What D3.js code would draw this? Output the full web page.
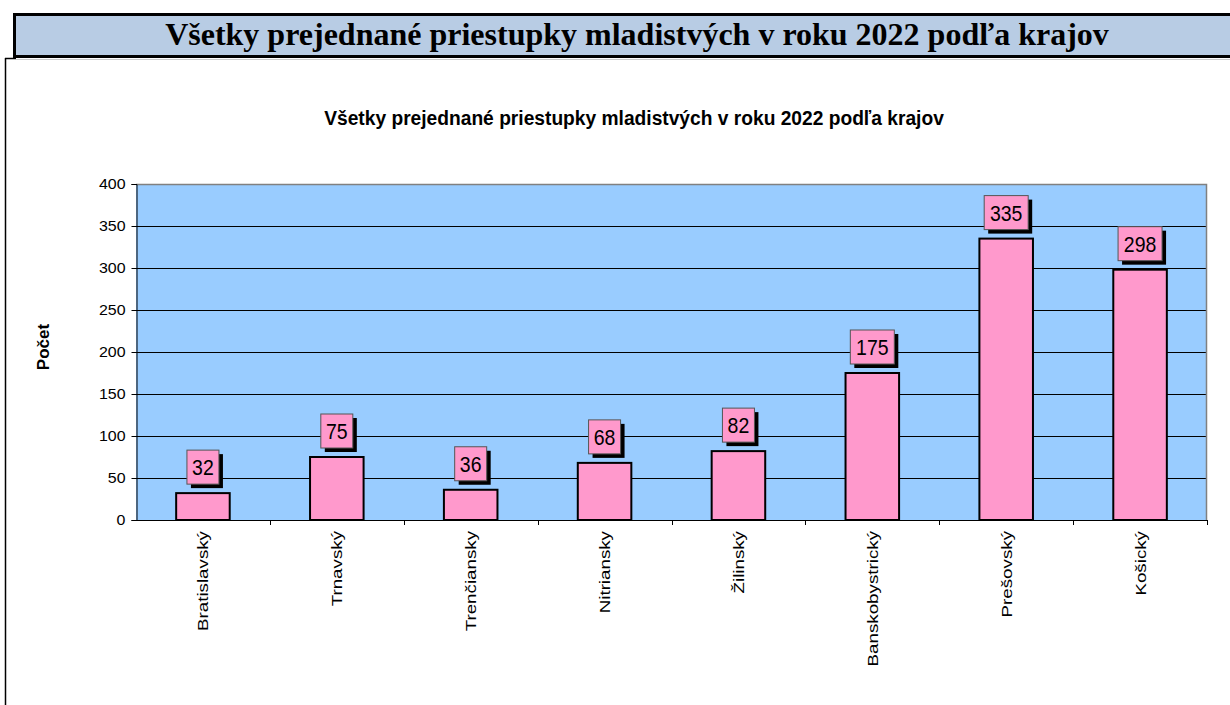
<!DOCTYPE html>
<html><head><meta charset="utf-8">
<script src="https://cdn.jsdelivr.net/npm/d3@7"></script>
<style>body{margin:0;background:#fff;} svg{display:block;}</style>
</head><body>
<script>
const categories = ["Bratislavský","Trnavský","Trenčiansky","Nitriansky","Žilinský","Banskobystrický","Prešovský","Košický"];
const values = [32,75,36,68,82,175,335,298];
const yTicks = [0,50,100,150,200,250,300,350,400];
const headerTitle = "Všetky prejednané priestupky mladistvých v roku 2022 podľa krajov";
const chartTitle = "Všetky prejednané priestupky mladistvých v roku 2022 podľa krajov";
const yAxisTitle = "Počet";

const W = 1230, H = 705;
const SANS = "Liberation Sans, Arial, sans-serif";
const svg = d3.select("body").append("svg").attr("width", W).attr("height", H);

// header box
svg.append("rect").attr("x",14.5).attr("y",14.5).attr("width",1300).attr("height",42)
  .attr("fill","#b8cce4").attr("stroke","#000").attr("stroke-width",3);
svg.append("line").attr("x1",14).attr("x2",1300).attr("y1",56.5).attr("y2",56.5).attr("stroke","#000").attr("stroke-width",3);
svg.append("text").attr("x",637).attr("y",45).attr("text-anchor","middle")
  .attr("font-family","Liberation Serif, Times New Roman, serif").attr("font-weight","bold")
  .attr("font-size",32).attr("fill","#000").text(headerTitle);

// chart frame
svg.append("line").attr("x1",5.5).attr("x2",5.5).attr("y1",58).attr("y2",H).attr("stroke","#000").attr("stroke-width",1.5);
svg.append("line").attr("x1",5).attr("x2",16).attr("y1",58.5).attr("y2",58.5).attr("stroke","#000").attr("stroke-width",1.5);
svg.append("line").attr("x1",16).attr("x2",W).attr("y1",59.5).attr("y2",59.5).attr("stroke","#ccc").attr("stroke-width",1);

// chart title
svg.append("text").attr("transform","translate(634,125) scale(0.96,1)").attr("text-anchor","middle")
  .attr("font-family",SANS).attr("font-weight","bold")
  .attr("font-size",20).attr("fill","#000").text(chartTitle);

const plot = {left:136, right:1207, top:184, bottom:520};
const x = d3.scaleBand().domain(categories).range([plot.left, plot.right]).padding(0);
const y = d3.scaleLinear().domain([0,400]).range([plot.bottom, plot.top]);

// plot background
svg.append("rect").attr("x",plot.left).attr("y",plot.top).attr("width",plot.right-plot.left).attr("height",plot.bottom-plot.top)
  .attr("fill","#99ccff");
// gridlines
svg.append("g").selectAll("line").data(yTicks.filter(d=>d>0 && d<400)).join("line")
  .attr("x1",plot.left).attr("x2",plot.right).attr("y1",d=>Math.round(y(d))+0.5).attr("y2",d=>Math.round(y(d))+0.5)
  .attr("stroke","#000").attr("stroke-width",1);
// border top/right grey
svg.append("path").attr("d",`M${plot.left},${plot.top+0.5}H${plot.right-0.5}V${plot.bottom}`)
  .attr("fill","none").attr("stroke","#808080").attr("stroke-width",1.5);

// y axis
const yAxis = d3.axisLeft(y).tickValues(yTicks).tickSize(5).tickPadding(6);
const gy = svg.append("g").attr("transform",`translate(${plot.left+0.5},0)`).call(yAxis);
gy.select(".domain").attr("stroke","#000");
gy.selectAll(".tick line").attr("stroke","#000");
gy.selectAll(".tick text").attr("font-family",SANS).attr("font-size",14.5).attr("fill","#000")
  .attr("transform","translate(-11,0) scale(1.1,1)").attr("x",0);

// x axis
const xAxis = d3.axisBottom(x).tickSize(0).tickFormat("");
const gx = svg.append("g").attr("transform",`translate(0,${plot.bottom+0.5})`).call(xAxis);
gx.select(".domain").attr("stroke","#000").attr("d",`M${plot.left},0H${plot.right}`);
// boundary ticks
svg.append("g").selectAll("line").data(categories.slice(1).concat(["__end"])).join("line")
  .attr("x1",(d,i)=>Math.round(plot.left + (i+1)*x.step())+0.5)
  .attr("x2",(d,i)=>Math.round(plot.left + (i+1)*x.step())+0.5)
  .attr("y1",plot.bottom).attr("y2",plot.bottom+5).attr("stroke","#000");
// rotated labels
svg.append("g").selectAll("text").data(categories).join("text")
  .attr("transform",d=>`translate(${x(d)+x.bandwidth()/2+5.5},${plot.bottom+11}) rotate(-90) scale(1.25,1)`)
  .attr("text-anchor","end")
  .attr("font-family",SANS).attr("font-size",15).attr("fill","#000")
  .text(d=>d);

// y axis title
svg.append("text").attr("transform",`translate(49,347) rotate(-90)`).attr("text-anchor","middle")
  .attr("font-family",SANS).attr("font-weight","bold").attr("font-size",17).attr("fill","#000")
  .text(yAxisTitle);

// bars
const barW = x.bandwidth()*0.4;
svg.append("g").selectAll("rect").data(values).join("rect")
  .attr("x",(d,i)=>x(categories[i])+x.bandwidth()/2-barW/2)
  .attr("y",d=>y(d))
  .attr("width",barW).attr("height",d=>plot.bottom-y(d))
  .attr("fill","#ff99cc").attr("stroke","#000").attr("stroke-width",2);

// data labels
const lab = svg.append("g").selectAll("g").data(values).join("g")
  .attr("transform",(d,i)=>`translate(${x(categories[i])+x.bandwidth()/2},${y(d)-9})`);
lab.each(function(d){
  const g = d3.select(this);
  const w = String(d).length===3 ? 44 : 32, h = 34;
  g.append("rect").attr("x",-w/2+4).attr("y",-h+4).attr("width",w).attr("height",h).attr("fill","#000");
  g.append("rect").attr("x",-w/2).attr("y",-h).attr("width",w).attr("height",h).attr("fill","#ff99cc").attr("stroke","#555").attr("stroke-width",1);
  g.append("text").attr("transform",`translate(0,${-h/2+8}) scale(1,1.1)`).attr("text-anchor","middle")
    .attr("font-family",SANS).attr("font-size",19.5).attr("fill","#000").text(d);
});
</script>
</body></html>
